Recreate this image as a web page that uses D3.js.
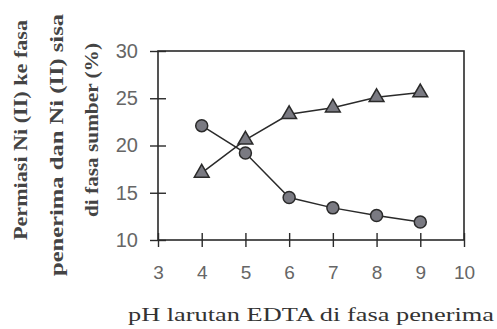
<!DOCTYPE html>
<html>
<head>
<meta charset="utf-8">
<script src="https://cdn.jsdelivr.net/npm/d3@7"></script>
<style>
  html, body { margin: 0; padding: 0; background: #fff; }
  svg { display: block; }
</style>
</head>
<body>
<svg id="chart" width="497" height="329"></svg>
<script>
// pH of the EDTA solution in the receiving phase
const pH = [4, 5, 6, 7, 8, 9];
// Ni(II) permeated into the receiving phase (%)
const permeasi = [17.1, 20.6, 23.3, 24.0, 25.1, 25.6];
// Ni(II) remaining in the source phase (%)
const sisa = [22.1, 19.2, 14.5, 13.4, 12.6, 11.9];
const xTicks = [3, 4, 5, 6, 7, 8, 9, 10];
const yTicks = [10, 15, 20, 25, 30];

const svg = d3.select("#chart");
const x = d3.scaleLinear().domain([3, 10]).range([158, 464]);
const y = d3.scaleLinear().domain([10, 30]).range([240, 51]);

const ink = "#2a2a2a";
const sans = "Liberation Sans, Arial, sans-serif";

// Frame
svg.append("rect")
  .attr("x", x(3)).attr("y", y(30))
  .attr("width", x(10) - x(3)).attr("height", y(10) - y(30))
  .attr("fill", "none").attr("stroke", ink).attr("stroke-width", 1.6);

// Axes with ticks crossing the frame line
const xAxis = svg.append("g").attr("transform", `translate(0,${y(10)})`)
  .call(d3.axisBottom(x).tickValues(xTicks).tickFormat(d3.format("d"))
    .tickSize(0).tickPadding(26));
xAxis.select(".domain").remove();
xAxis.selectAll(".tick").append("line")
  .attr("y1", -7).attr("y2", 7).attr("stroke", ink).attr("stroke-width", 1.4);
xAxis.selectAll("text")
  .attr("font-family", sans).attr("font-size", 19).attr("fill", "#666")
  .attr("dy", "0.71em");

const yAxis = svg.append("g").attr("transform", `translate(${x(3)},0)`)
  .call(d3.axisLeft(y).tickValues(yTicks).tickFormat(d3.format("d"))
    .tickSize(0).tickPadding(20));
yAxis.select(".domain").remove();
yAxis.selectAll(".tick").append("line")
  .attr("x1", -8).attr("x2", 8).attr("stroke", ink).attr("stroke-width", 1.4);
yAxis.selectAll("text")
  .attr("font-family", sans).attr("font-size", 20).attr("fill", "#666");

// Series lines
const line = vals => d3.line().x((d, i) => x(pH[i])).y(d => y(d))(vals);
svg.append("path").attr("d", line(permeasi))
  .attr("fill", "none").attr("stroke", ink).attr("stroke-width", 1.5);
svg.append("path").attr("d", line(sisa))
  .attr("fill", "none").attr("stroke", ink).attr("stroke-width", 1.5);

// Markers
svg.append("g").selectAll("circle").data(sisa).join("circle")
  .attr("cx", (d, i) => x(pH[i])).attr("cy", d => y(d)).attr("r", 6)
  .attr("fill", "#7a7a82").attr("stroke", ink).attr("stroke-width", 1.5);

const tri = d3.symbol().type(d3.symbolTriangle).size(95);
svg.append("g").selectAll("path").data(permeasi).join("path")
  .attr("d", tri)
  .attr("transform", (d, i) => `translate(${x(pH[i])},${y(d)})`)
  .attr("fill", "#7a7a82").attr("stroke", ink).attr("stroke-width", 1.5);

// Axis titles
const serif = "Liberation Serif, Times New Roman, serif";
svg.append("text")
  .attr("x", 311).attr("y", 321)
  .attr("text-anchor", "middle")
  .attr("textLength", 366).attr("lengthAdjust", "spacingAndGlyphs")
  .attr("font-family", serif).attr("font-size", 19).attr("fill", "#333")
  .text("pH larutan EDTA di fasa penerima");

const yTitle = [
  { t: "Permiasi Ni (II) ke fasa", cx: 27, cy: 130, len: 220 },
  { t: "penerima dan Ni (II) sisa", cx: 63, cy: 145, len: 262 },
  { t: "di fasa sumber (%)", cx: 98, cy: 130, len: 174 }
];
svg.append("g").selectAll("text").data(yTitle).join("text")
  .attr("transform", d => `translate(${d.cx},${d.cy}) rotate(-90)`)
  .attr("text-anchor", "middle")
  .attr("textLength", d => d.len).attr("lengthAdjust", "spacingAndGlyphs")
  .attr("font-family", serif).attr("font-size", 18).attr("font-weight", "bold")
  .attr("fill", "#444")
  .text(d => d.t);
</script>
</body>
</html>
